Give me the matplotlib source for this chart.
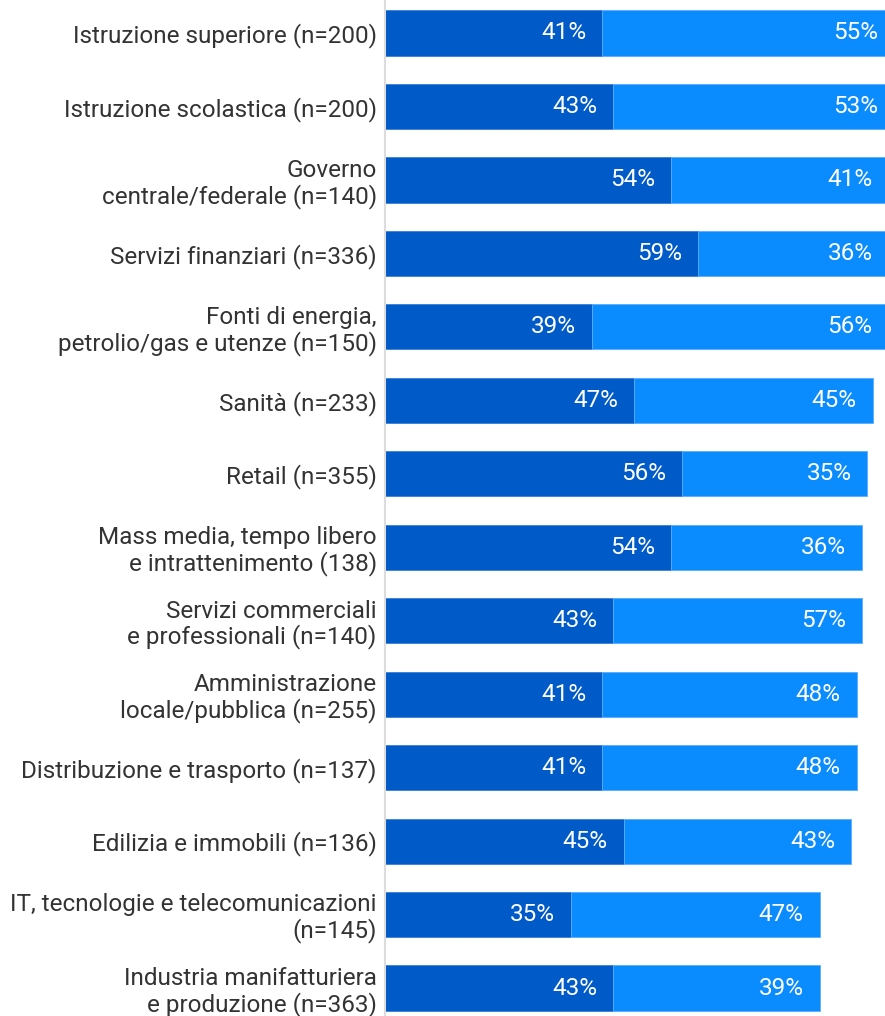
import matplotlib
matplotlib.use("Agg")
import matplotlib.pyplot as plt

categories = [
    "Istruzione superiore (n=200)",
    "Istruzione scolastica (n=200)",
    "Governo\ncentrale/federale (n=140)",
    "Servizi finanziari (n=336)",
    "Fonti di energia,\npetrolio/gas e utenze (n=150)",
    "Sanità (n=233)",
    "Retail (n=355)",
    "Mass media, tempo libero\ne intrattenimento (138)",
    "Servizi commerciali\ne professionali (n=140)",
    "Amministrazione\nlocale/pubblica (n=255)",
    "Distribuzione e trasporto (n=137)",
    "Edilizia e immobili (n=136)",
    "IT, tecnologie e telecomunicazioni\n(n=145)",
    "Industria manifatturiera\ne produzione (n=363)",
]
dark_values = [41, 43, 54, 59, 39, 47, 56, 54, 43, 41, 41, 45, 35, 43]
light_values = [55, 53, 41, 36, 56, 45, 35, 36, 47, 48, 48, 43, 47, 39]
dark_labels = ["41%", "43%", "54%", "59%", "39%", "47%", "56%", "54%", "43%", "41%", "41%", "45%", "35%", "43%"]
light_labels = ["55%", "53%", "41%", "36%", "56%", "45%", "35%", "36%", "57%", "48%", "48%", "43%", "47%", "39%"]

DARK = "#005AC8"
LIGHT = "#0A8CFF"
FONT = ["Roboto", "DejaVu Sans"]

W, H = 885, 1016
fig = plt.figure(figsize=(W / 100, H / 100), dpi=100)
ax = fig.add_axes([385 / W, 0, 500 / W, 1])

y = list(range(len(categories)))
bh = 0.615
ax.barh(y, dark_values, height=bh, color=DARK, edgecolor="#3a7fd8", linewidth=0.6)
ax.barh(y, light_values, left=dark_values, height=bh, color=LIGHT, edgecolor="#5aaeff", linewidth=0.6)

ax.set_xlim(0, 500 / 5.3)
ax.set_ylim(13.38, -0.449)

pad = 3.0
for i in y:
    ax.text(dark_values[i] - pad, i, dark_labels[i], ha="right", va="center",
            color="white", fontsize=17.5, family=FONT, clip_on=True)
    ax.text(dark_values[i] + light_values[i] - pad, i, light_labels[i], ha="right", va="center",
            color="white", fontsize=17.5, family=FONT, clip_on=True)

ax.set_yticks(y)
ax.set_yticklabels(categories, fontsize=17.5, family=FONT, color="#333333",
                   linespacing=1.1)
ax.tick_params(axis="y", length=0, pad=6)
ax.set_xticks([])
for s in ["top", "right", "bottom"]:
    ax.spines[s].set_visible(False)
ax.spines["left"].set_color("#dcdcdc")
ax.spines["left"].set_linewidth(1.5)

fig.savefig("out.png", dpi=100)
